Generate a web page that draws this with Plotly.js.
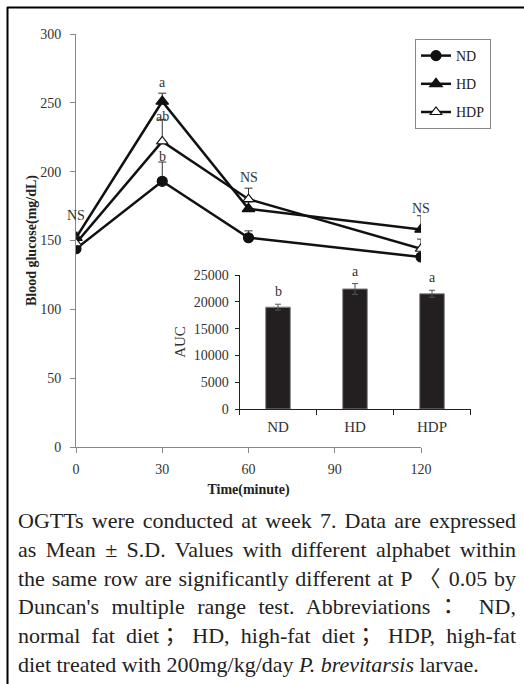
<!DOCTYPE html>
<html>
<head>
<meta charset="utf-8">
<script src="https://cdn.plot.ly/plotly-3.0.1.min.js"></script>
<style>
  html, body { margin: 0; padding: 0; background: #fff; }
  #wrap { position: relative; width: 524px; height: 684px; overflow: hidden; }
  #chart { position: absolute; left: 0; top: 0; width: 524px; height: 684px; }
  #caption { position: absolute; left: 18px; top: 507px; width: 498px;
    font-family: "Liberation Serif", "Noto Sans CJK KR", serif; font-size: 22px; line-height: 28.8px; color: #222; }
  #caption div { white-space: nowrap; text-align: justify; text-align-last: justify; }
  #caption div.last { text-align-last: left; }
</style>
</head>
<body>
<div id="wrap">
  <div id="chart"></div>
  <div id="caption"></div>
</div>
<script>
// ---- data ----
const times = [0, 30, 60, 120];
const ndMean = [144, 193, 152, 138];
const ndSd = [3, 14, 5, 2];
const hdMean = [152, 251, 173, 158];
const hdSd = [4, 6, 5, 10];
const hdpMean = [148, 222, 180, 144];
const hdpSd = [5, 16, 8, 7];

const sigX = [0, 30, 30, 30, 60, 120];
const sigY = [168, 265, 240, 211, 196, 173];
const sigText = ['NS', 'a', 'ab', 'b', 'NS', 'NS'];

const aucGroups = ['ND', 'HD', 'HDP'];
const aucMean = [19000, 22400, 21500];
const aucSd = [550, 1000, 650];
const aucSigText = ['b', 'a', 'a'];

const xTicks = [0, 30, 60, 90, 120];

const captionLines = [
  'OGTTs were conducted at week 7. Data are expressed',
  'as Mean \u00b1 S.D. Values with different alphabet within',
  'the same row are significantly different at P \u3008 0.05 by',
  'Duncan\'s multiple range test. Abbreviations\uff1a ND,',
  'normal fat diet\uff1b HD, high-fat diet\uff1b HDP, high-fat',
  'diet treated with 200mg/kg/day <i>P. brevitarsis</i> larvae.'
];

// ---- chart ----
const FONT = '"Liberation Serif", "Times New Roman", serif';
const W = 524, H = 684;
const px = v => v / W;
const py = v => 1 - v / H;

function lineTrace(name, mean, sd, symbol, fill, size) {
  return {
    type: 'scatter', mode: 'lines+markers', name: name,
    x: times, y: mean, xaxis: 'x', yaxis: 'y',
    line: { color: '#111', width: 2.5 },
    marker: { symbol: symbol, size: size, color: fill, line: { color: '#111', width: 1.2 } },
    error_y: { type: 'data', symmetric: false, array: sd, arrayminus: sd.map(() => 0),
      color: '#333', thickness: 1, width: 4 },
    legendgroup: name
  };
}

const traces = [
  lineTrace('ND', ndMean, ndSd, 'circle', '#111', 10),
  lineTrace('HD', hdMean, hdSd, 'triangle-up', '#111', 11),
  lineTrace('HDP', hdpMean, hdpSd, 'triangle-up', '#fff', 10),
  {
    type: 'bar', x: aucGroups, y: aucMean, xaxis: 'x2', yaxis: 'y2', width: 0.32,
    marker: { color: '#231f20', line: { color: '#8a8a8a', width: 1 } },
    error_y: { type: 'data', array: aucSd, color: '#555', thickness: 1, width: 3 },
    showlegend: false
  }
];

const sigFont = { family: FONT, size: 14, color: '#333' };
const annotations = [];
sigText.forEach((t, i) => annotations.push({
  xref: 'x', yref: 'y', x: sigX[i], y: sigY[i], text: t, showarrow: false,
  font: sigFont, xanchor: 'center', yanchor: 'middle'
}));
aucSigText.forEach((t, i) => annotations.push({
  xref: 'x2', yref: 'y2', x: aucGroups[i], y: aucMean[i] + aucSd[i], text: t, showarrow: false,
  font: sigFont, xanchor: 'center', yanchor: 'bottom', yshift: 3
}));

const tickFont = { family: FONT, size: 14, color: '#333' };

const layout = {
  width: W, height: H,
  margin: { l: 0, r: 0, t: 0, b: 0 },
  paper_bgcolor: 'rgba(0,0,0,0)', plot_bgcolor: 'rgba(0,0,0,0)',
  font: { family: FONT, size: 14, color: '#333' },
  showlegend: true,
  legend: {
    x: px(415), y: py(39), xanchor: 'left', yanchor: 'top',
    bordercolor: '#888', borderwidth: 1, bgcolor: '#fff',
    font: { family: FONT, size: 14, color: '#222' },
    tracegroupgap: 7, itemwidth: 30
  },
  annotations: annotations,
  xaxis: {
    domain: [px(76), px(421)], range: [0, 120], tickvals: xTicks,
    ticks: 'outside', ticklen: 5, tickcolor: '#888', showline: true, linecolor: '#888', linewidth: 1,
    showgrid: false, zeroline: false, tickfont: tickFont, anchor: 'y', ticklabelstandoff: 4,
    title: { text: '<b>Time(minute)</b>', font: { family: FONT, size: 14, color: '#222' }, standoff: 8 }
  },
  yaxis: {
    domain: [py(447), py(34)], range: [0, 300], dtick: 50,
    ticks: 'outside', ticklen: 5, tickcolor: '#888', showline: true, linecolor: '#888', linewidth: 1,
    showgrid: false, zeroline: false, tickfont: tickFont, anchor: 'x', ticklabelstandoff: 6,
    title: { text: '<b>Blood glucose(mg/dL)</b>', font: { family: FONT, size: 14, color: '#222' }, standoff: 0 }
  },
  xaxis2: {
    domain: [px(239.5), px(470.5)], type: 'category', range: [-0.5, 2.5],
    tickson: 'boundaries', ticks: 'outside', ticklen: 5, tickcolor: '#222',
    showline: true, linecolor: '#222', linewidth: 1, showgrid: false, zeroline: false,
    tickfont: { family: FONT, size: 15, color: '#333' }, anchor: 'y2', ticklabelstandoff: 4
  },
  yaxis2: {
    domain: [py(409), py(275)], range: [0, 25000], dtick: 5000, tickformat: 'd',
    ticks: 'outside', ticklen: 4, tickcolor: '#222',
    showline: true, linecolor: '#222', linewidth: 1, showgrid: false, zeroline: false,
    tickfont: tickFont, anchor: 'x2', ticklabelstandoff: 3,
    title: { text: 'AUC', font: { family: FONT, size: 15, color: '#333' }, standoff: 4 }
  },
  shapes: [
    { type: 'line', xref: 'paper', yref: 'paper', x0: px(7), x1: 1, y0: py(7.5), y1: py(7.5),
      line: { color: '#000', width: 2 } },
    { type: 'line', xref: 'paper', yref: 'paper', x0: px(7.5), x1: px(7.5), y0: py(7), y1: 0,
      line: { color: '#000', width: 2 } }
  ]
};

Plotly.newPlot('chart', traces, layout, { displayModeBar: false, staticPlot: true });

const cap = document.getElementById('caption');
captionLines.forEach((t, i) => {
  const d = document.createElement('div');
  d.innerHTML = t;
  if (i === captionLines.length - 1) d.className = 'last';
  cap.appendChild(d);
});
</script>
</body>
</html>
